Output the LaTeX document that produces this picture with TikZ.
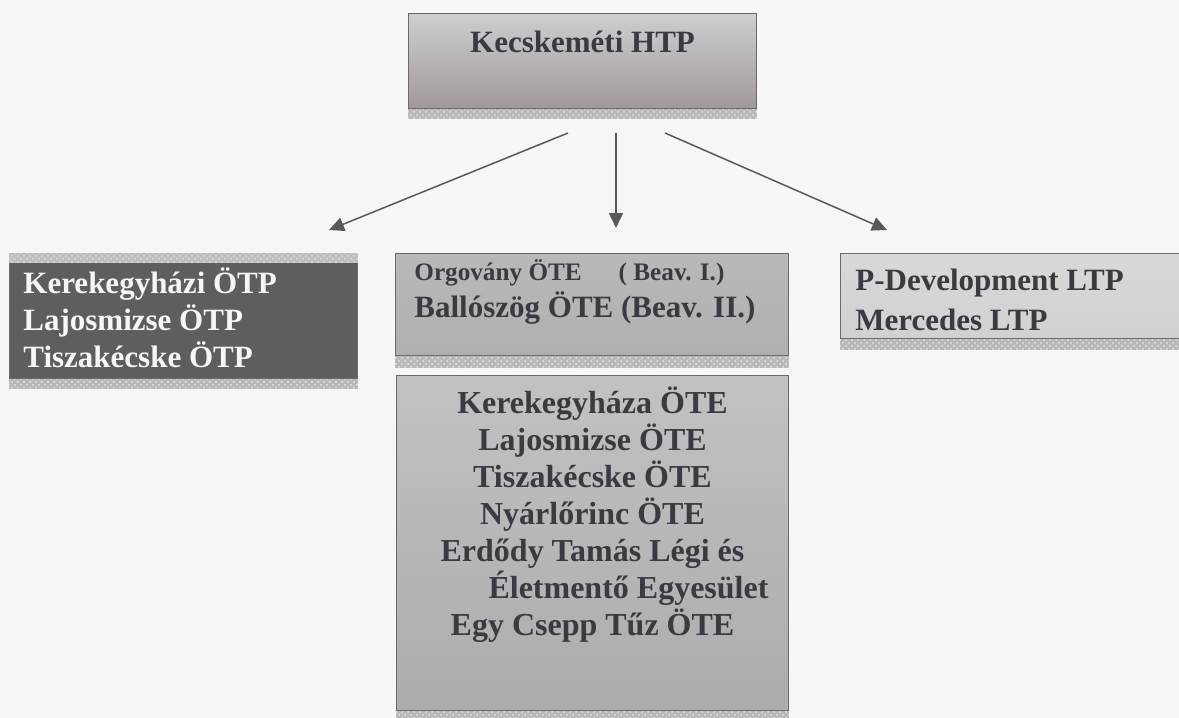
\documentclass[tikz,border=0pt]{standalone}
\usepackage{fontspec}
\setmainfont{Liberation Serif}
\usetikzlibrary{positioning,arrows.meta,patterns}
\definecolor{ink}{HTML}{3A3A42}
\definecolor{frame}{HTML}{6A6A6E}
\definecolor{darkfill}{HTML}{5E5E60}
\definecolor{paper}{HTML}{F7F7F9}
\tikzset{
    panel/.style={
        rectangle, draw=frame, line width=0.5pt,
        inner sep=0pt, anchor=north west
    },
    entry/.style={
        inner sep=0pt, align=left, text=ink,
        font=\fontsize{15.5}{18.5}\selectfont\bfseries
    },
    ledge/.style={
        fill=gray!55,
        postaction={pattern=crosshatch dots, pattern color=gray!20}
    },
    link/.style={
        -{Triangle[length=7.5pt,width=7pt]},
        line width=0.75pt, draw=ink!85
    }
}

\begin{document}
\begin{tikzpicture}[x=0.5pt, y=-0.5pt]

        % Page
        \fill[paper] (0,0) rectangle (1179,718);
        \useasboundingbox (0,0) rectangle (1179,718);

        % Boxes
        \node[panel, minimum width=174pt, minimum height=47.5pt,
            top color=gray!38, bottom color=violet!8!gray!75] (htp) at (408,13) {};
        \node[panel, minimum width=174pt, minimum height=62.5pt,
            fill=darkfill] (otp) at (9,253) {};
        \node[panel, minimum width=196.5pt, minimum height=51pt,
            top color=gray!55, bottom color=gray!62] (ote1) at (395,253) {};
        \node[panel, minimum width=172.5pt, minimum height=42.5pt,
            top color=gray!30, bottom color=gray!36] (ltp) at (840,253) {};
        \node[panel, minimum width=196pt, minimum height=167.5pt,
            top color=gray!48, middle color=gray!36, bottom color=gray!65] (ote2) at (396,375) {};

        % Shadow edges
        \fill[ledge] (htp.south west) rectangle ([yshift=-5pt]htp.south east);
        \fill[ledge] (otp.south west) rectangle ([yshift=-5pt]otp.south east);
        \fill[fill=gray!50, postaction={pattern=crosshatch dots, pattern color=gray!25}]
            (otp.north west) rectangle ([yshift=-5pt]otp.north east);
        \fill[ledge] (ote1.south west) rectangle ([yshift=-6pt]ote1.south east);
        \fill[ledge] (ltp.south west) rectangle ([yshift=-5.5pt]ltp.south east);
        \fill[ledge] (ote2.south west) rectangle ([yshift=-6pt]ote2.south east);

        % Texts (base = last line)
        \node[entry, anchor=base] (t-htp) at ([yshift=-19.5pt]htp.north)
            {Kecskeméti HTP};
        \node[entry, anchor=base west, text=white!93!gray] (t-otp)
            at ([xshift=7pt, yshift=-57pt]otp.north west)
            {Kerekegyházi ÖTP\\Lajosmizse ÖTP\\Tiszakécske ÖTP};
        \node[entry, anchor=base west] (t-ote1)
            at ([xshift=9.5pt, yshift=-32pt]ote1.north west)
            {{\fontsize{12.6}{15}\selectfont Orgovány ÖTE\hspace{18.5pt}( Beav. I.)}\\
             Ballószög ÖTE (Beav. II.)};
        \node[entry, anchor=base west] (t-ltp)
            at ([xshift=7.5pt, yshift=-38.5pt]ltp.north west)
            {P-Development LTP\\[1.5pt]Mercedes LTP};
        \node[entry, align=center, anchor=base, font=\fontsize{16}{18.5}\selectfont\bfseries] (t-ote2)
            at ([yshift=-130pt]ote2.north)
            {Kerekegyháza ÖTE\\Lajosmizse ÖTE\\Tiszakécske ÖTE\\Nyárlőrinc ÖTE\\
             Erdődy Tamás Légi és\\\hspace*{36pt}Életmentő Egyesület\\Egy Csepp Tűz ÖTE};

        % Arrow ends
        \coordinate (htp-l) at (568,133);
        \coordinate (htp-m) at (616,133);
        \coordinate (htp-r) at (665,133);
        \coordinate (otp-in) at (329,230);
        \coordinate (ote-in) at (616,228);
        \coordinate (ltp-in) at (887,230);

        % Arrows
        \draw[link] (htp-l) -- (otp-in);
        \draw[link] (htp-m) -- (ote-in);
        \draw[link] (htp-r) -- (ltp-in);

    \end{tikzpicture}
\end{document}
